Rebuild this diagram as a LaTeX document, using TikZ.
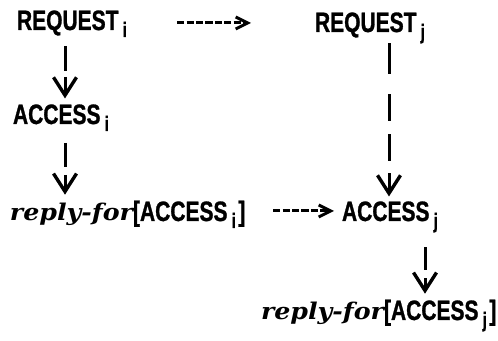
\documentclass[tikz,border=0pt]{standalone}
\usepackage{fontspec}
\usetikzlibrary{arrows.meta}
\newfontfamily\sansb[FakeStretch=0.75,FakeBold=1]{Liberation Sans}
\newfontfamily\rfont[FakeStretch=1.1]{DejaVu Serif}
\newcommand\sbx[1]{\kern2pt\raisebox{-3.5pt}{\fontsize{10.5}{10.5}\selectfont #1}\kern1.2pt}
\newcommand\rf{{\rfont\bfseries\itshape\fontsize{11.5}{11.5}\selectfont reply-for}}
\tikzset{
  lbl/.style={inner sep=0pt, outer sep=0pt, anchor=base west, font=\sansb\bfseries\fontsize{14}{14}\selectfont},
  vlink/.style={line width=1.5pt, -{Straight Barb[length=9pt,width=11.5pt,line width=1.7pt]}},
  hlink/.style={line width=1.5pt, dash pattern=on 3.6pt off 1.1pt, -{Straight Barb[length=6pt,width=6pt,line width=1.5pt]}}
}
\begin{document}
\begin{tikzpicture}[x=0.5pt,y=-0.5pt]
\path[use as bounding box] (0,0) rectangle (498,341);
\node[lbl] (reqi) at (17,30) {REQUEST\sbx{i}};
\node[lbl] (reqj) at (315,32) {REQUEST\sbx{j}};
\node[lbl] (acci) at (13,124) {ACCESS\sbx{i}};
\node[lbl] (rfi) at (10,221) {\rf[ACCESS\sbx{i}]};
\node[lbl] (accj) at (342,221) {ACCESS\sbx{j}};
\node[lbl] (rfj) at (261,320) {\rf[ACCESS\sbx{j}]};
\coordinate (colL) at (65,0);
\coordinate (colR) at (389,0);
\coordinate (colRR) at (425,0);
\coordinate (rowA) at (0,23);
\coordinate (rowB) at (0,211);
\draw[vlink, dash pattern=on 12.5pt off 3pt on 40pt, shorten <=4.5pt, shorten >=3pt] (reqi.south -| colL) -- (acci.north -| colL);
\draw[vlink, dash pattern=on 12pt off 4pt on 40pt, shorten <=6pt, shorten >=3pt] (acci.south -| colL) -- (rfi.north -| colL);
\draw[vlink, dash pattern=on 15.5pt off 10pt on 13.5pt off 6.5pt on 13.5pt off 6pt on 40pt, shorten >=2.5pt] (reqj.south -| colR) -- (accj.north -| colR);
\draw[vlink, dash pattern=on 11.5pt off 4pt on 40pt, shorten <=7.5pt, shorten >=3pt] (accj.south -| colRR) -- (rfj.north -| colRR);
\draw[hlink, shorten <=24pt, shorten >=32pt] (reqi.east |- rowA) -- (reqj.west |- rowA);
\draw[hlink, shorten <=14pt, shorten >=4pt] (rfi.east |- rowB) -- (accj.west |- rowB);
\end{tikzpicture}
\end{document}
